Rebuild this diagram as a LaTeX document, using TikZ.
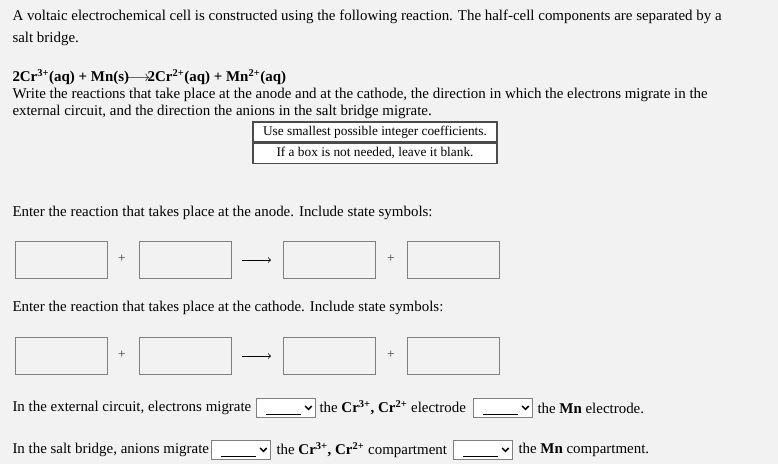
\documentclass[tikz,border=0pt]{standalone}
\usepackage{fontspec}
\setmainfont{Liberation Serif}
\usetikzlibrary{positioning}
\definecolor{pagebg}{RGB}{242,242,242}
\definecolor{boxline}{RGB}{128,128,128}
\newcommand{\ionsup}[1]{\textsuperscript{\bfseries #1}}
\tikzset{every picture/.style={line width=0.75pt},
  txt/.style={anchor=west,inner sep=0pt,font=\fontsize{11.2}{13}\selectfont},
  ansbox/.style={draw=boxline,fill=pagebg,minimum width=69pt,minimum height=28pt,inner sep=0pt,line width=0.6pt},
  dropbox/.style={draw=boxline,fill=white,minimum width=44pt,minimum height=14pt,inner sep=0pt,line width=0.6pt},
  plus/.style={inner sep=0pt,font=\fontsize{10}{10}\selectfont,text=black!75},
  notebox/.style={draw=black!70,fill=white,minimum width=183pt,minimum height=15pt,inner sep=0pt,line width=0.8pt,font=\fontsize{10}{11}\selectfont}}
\newcommand{\dropdown}[2]{%
  \node[dropbox] (#1) at (#2) {};
  \draw[line width=0.5pt] ([xshift=-37pt,yshift=4.5pt]#1.east) -- ([xshift=-11pt,yshift=4.5pt]#1.east);
  \draw[line width=1.1pt] ([xshift=-8pt,yshift=-1.5pt]#1.east) -- ([xshift=-5.5pt,yshift=1pt]#1.east) -- ([xshift=-3pt,yshift=-1.5pt]#1.east);}
\begin{document}
\begin{tikzpicture}[x=0.75pt,y=0.75pt,yscale=-1,xscale=1]
\fill[pagebg] (0,0) rectangle (778,464);
\useasboundingbox (0,0) rectangle (778,464);
% question text
\node[txt] (l1) at (12,17) {A voltaic electrochemical cell is constructed using the following reaction. The half-cell components are separated by a};
\node[txt] (l2) at (12,39) {salt bridge.};
\node[txt] (eq) at (12,77) {\bfseries 2Cr\ionsup{3+}(aq) + Mn(s)$\!\longrightarrow\!$2Cr\ionsup{2+}(aq) + Mn\ionsup{2+}(aq)};
\node[txt] (l3) at (12,95) {Write the reactions that take place at the anode and at the cathode, the direction in which the electrons migrate in the};
\node[txt] (l4) at (12,112) {external circuit, and the direction the anions in the salt bridge migrate.};
\node[notebox] (n1) at (375,132) {Use smallest possible integer coefficients.};
\node[notebox,below=0pt of n1] (n2) {If a box is not needed, leave it blank.};
% anode
\node[txt] (an) at (12,213) {Enter the reaction that takes place at the anode. Include state symbols:};
\node[ansbox] (a1) at (61,260) {};
\node[ansbox] (a2) at (185,260) {};
\node[ansbox] (a3) at (329,260) {};
\node[ansbox] (a4) at (453,260) {};
\node[plus] (ap1) at (122,259) {+};
\node[plus] (ap2) at (391,259) {+};
\coordinate (aa1) at (242,260);
\coordinate (aa2) at (271,260);
\draw[->,line width=0.6pt] (aa1) -- (aa2);
% cathode
\node[txt] (ca) at (12,308) {Enter the reaction that takes place at the cathode. Include state symbols:};
\node[ansbox] (c1) at (61,356) {};
\node[ansbox] (c2) at (185,356) {};
\node[ansbox] (c3) at (329,356) {};
\node[ansbox] (c4) at (453,356) {};
\node[plus] (cp1) at (122,355) {+};
\node[plus] (cp2) at (391,355) {+};
\coordinate (ca1) at (242,356);
\coordinate (ca2) at (271,356);
\draw[->,line width=0.6pt] (ca1) -- (ca2);
% electrons
\node[txt] (e1) at (12,408) {In the external circuit, electrons migrate};
\dropdown{d1}{286,408}
\node[txt] (e2) at (319,408) {the \textbf{Cr\ionsup{3+}, Cr\ionsup{2+}} electrode};
\dropdown{d2}{503,408}
\node[txt] (e3) at (537,408) {the \textbf{Mn} electrode.};
% anions
\node[txt] (s1) at (12,450) {In the salt bridge, anions migrate};
\dropdown{d3}{241,450}
\node[txt] (s2) at (276,450) {the \textbf{Cr\ionsup{3+}, Cr\ionsup{2+}} compartment};
\dropdown{d4}{483,450}
\node[txt] (s3) at (518,450) {the \textbf{Mn} compartment.};
\end{tikzpicture}
\end{document}
